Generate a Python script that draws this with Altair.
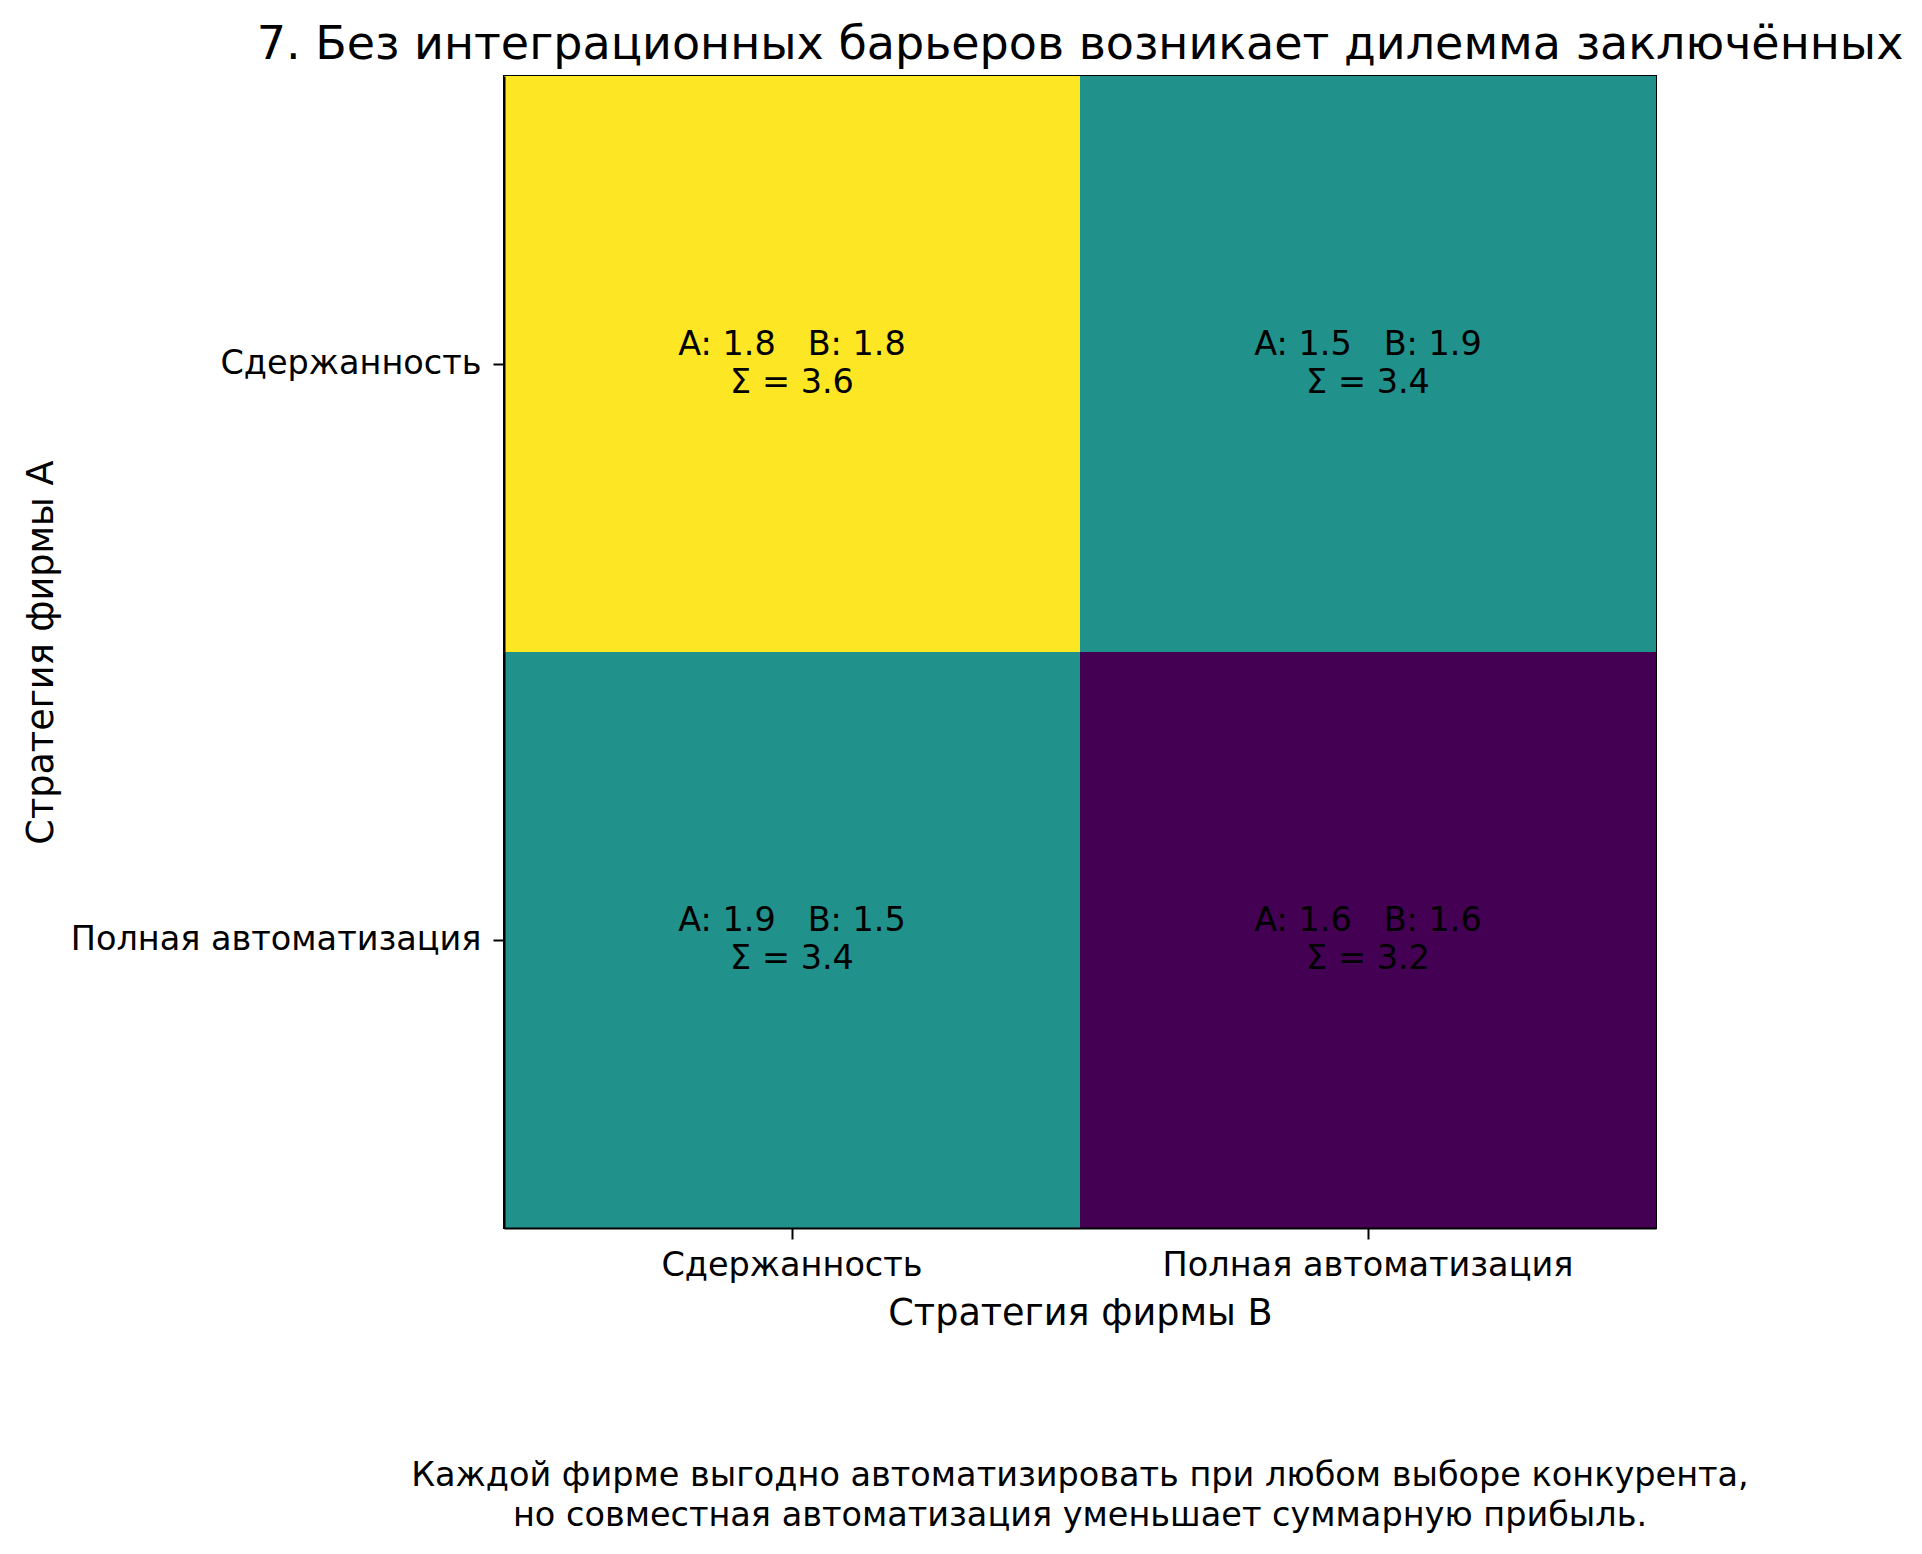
import altair as alt
import pandas as pd

strategies = ["Сдержанность", "Полная автоматизация"]
# rows: strategy of firm A, columns: strategy of firm B
payoff_A = [[1.8, 1.5], [1.9, 1.6]]
payoff_B = [[1.8, 1.9], [1.5, 1.6]]

title_text = "7. Без интеграционных барьеров возникает дилемма заключённых"
x_title = "Стратегия фирмы B"
y_title = "Стратегия фирмы A"
footnote = [
    "Каждой фирме выгодно автоматизировать при любом выборе конкурента,",
    "но совместная автоматизация уменьшает суммарную прибыль.",
]

rows = []
for i, sa in enumerate(strategies):
    for j, sb in enumerate(strategies):
        a = payoff_A[i][j]
        b = payoff_B[i][j]
        s = round(a + b, 1)
        rows.append({
            "A": sa,
            "B": sb,
            "total": s,
            "label": f"A: {a:.1f}\u00a0\u00a0\u00a0B: {b:.1f}\nΣ = {s:.1f}",
        })
df = pd.DataFrame(rows)

W, H = 1152, 1152
FONT = "DejaVu Sans"
SMALL = 33.5

xenc = alt.X("B:N", sort=strategies, title=x_title,
             scale=alt.Scale(paddingInner=0, paddingOuter=0),
             axis=alt.Axis(labelAngle=0, titleY=96, titleBaseline="alphabetic"))
yenc = alt.Y("A:N", sort=strategies, title=y_title,
             scale=alt.Scale(paddingInner=0, paddingOuter=0),
             axis=alt.Axis(titleX=-452, titleBaseline="alphabetic", titleAngle=-90,
                           labelPadding=12))

rects = alt.Chart(df).mark_rect().encode(
    x=xenc,
    y=yenc,
    color=alt.Color("total:Q", legend=None,
                    scale=alt.Scale(domain=[3.2, 3.4, 3.6],
                                    range=["#440154", "#21918c", "#fde725"])),
)

texts = alt.Chart(df).mark_text(
    font=FONT, fontSize=SMALL, color="black", lineBreak="\n", lineHeight=38,
    align="center", baseline="middle", dy=-19,
).encode(
    x=alt.X("B:N", sort=strategies),
    y=alt.Y("A:N", sort=strategies),
    text="label:N",
)

foot_df = pd.DataFrame({"t": ["\n".join(footnote)]})
foot = alt.Chart(foot_df).mark_text(
    font=FONT, fontSize=SMALL, color="black", lineBreak="\n", lineHeight=40,
    align="center", baseline="alphabetic",
).encode(
    x=alt.value(W / 2),
    y=alt.value(1410),
    text="t:N",
)

chart = alt.layer(rects, texts, foot).properties(
    width=W, height=H,
    title=alt.TitleParams(title_text, fontSize=46, font=FONT, fontWeight="normal",
                          color="black", anchor="middle", offset=7),
    autosize=alt.AutoSizeParams(type="none"),
    padding={"left": 496, "top": 68, "right": 258, "bottom": 318},
).configure_view(
    stroke="black", strokeWidth=2
).configure_axis(
    labelFont=FONT, titleFont=FONT, labelFontSize=SMALL, titleFontSize=36.6,
    labelColor="black", titleColor="black", titleFontWeight="normal",
    domainColor="black", domainWidth=2, tickColor="black", tickWidth=2,
    tickSize=11, labelPadding=10, grid=False, labelLimit=700,
)

chart.save("out.html", embed_options={"renderer": "svg", "actions": False})
